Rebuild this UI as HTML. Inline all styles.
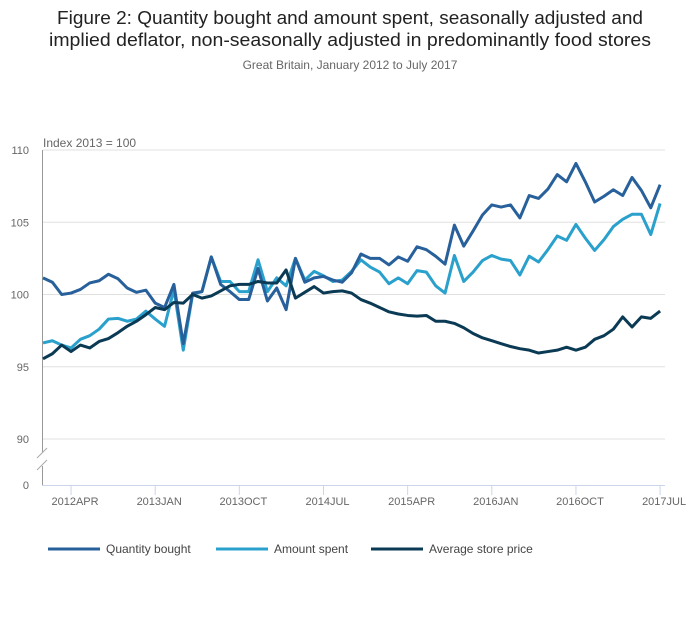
<!DOCTYPE html>
<html><head><meta charset="utf-8"><style>
body{margin:0;background:#fff;font-family:"Liberation Sans",sans-serif;}
svg text{font-family:"Liberation Sans",sans-serif;}
</style></head><body>
<svg id="chart" width="700" height="635" viewBox="0 0 700 635">
<text x="57" y="24" font-size="18.5" fill="#222" textLength="586" lengthAdjust="spacingAndGlyphs">Figure 2: Quantity bought and amount spent, seasonally adjusted and</text>
<text x="49" y="46" font-size="18.5" fill="#222" textLength="602" lengthAdjust="spacingAndGlyphs">implied deflator, non-seasonally adjusted in predominantly food stores</text>
<text x="350" y="69" text-anchor="middle" font-size="12" fill="#666">Great Britain, January 2012 to July 2017</text>
<text x="43" y="147" font-size="12" fill="#666">Index 2013 = 100</text>
<g id="grid"></g><g id="axes"></g><g id="series"></g>
<g>
<line x1="48" y1="549" x2="100" y2="549" stroke="#27609a" stroke-width="3"/><text x="106" y="553" font-size="12" fill="#444">Quantity bought</text>
<line x1="216" y1="549" x2="268" y2="549" stroke="#2aa0cc" stroke-width="3"/><text x="274" y="553" font-size="12" fill="#444">Amount spent</text>
<line x1="371" y1="549" x2="423" y2="549" stroke="#0b3a55" stroke-width="3"/><text x="429" y="553" font-size="12" fill="#444">Average store price</text>
</g>
</svg>
<script>
const quantity=[101.15,100.85,100.0,100.1,100.35,100.8,100.95,101.4,101.1,100.45,100.15,100.3,99.4,99.1,100.7,96.6,100.1,100.2,102.6,100.7,100.2,99.65,99.65,101.8,99.55,100.45,98.95,102.5,100.85,101.15,101.25,101.0,
100.85,101.5,102.8,102.5,102.5,102.05,102.6,102.3,103.3,103.1,102.65,102.1,104.8,103.35,104.4,105.5,106.2,106.05,106.2,105.3,106.85,106.65,107.3,108.3,107.8,109.07,107.8,106.4,106.8,107.25,106.85,108.1,107.2,106.0,107.6];
const amount=[96.65,96.8,96.5,96.3,96.9,97.15,97.6,98.3,98.35,98.15,98.3,98.85,98.3,97.8,100.35,96.15,100.0,100.2,102.6,100.9,100.9,100.2,100.2,102.4,100.2,101.15,100.6,102.5,101.0,101.6,101.3,100.9,
101.0,101.6,102.4,101.9,101.55,100.75,101.15,100.75,101.65,101.55,100.6,100.1,102.7,100.9,101.55,102.35,102.7,102.45,102.35,101.35,102.65,102.25,103.1,104.05,103.75,104.85,103.9,103.05,103.8,104.7,105.2,105.55,105.55,104.15,106.3];
const price=[95.55,95.9,96.5,96.05,96.5,96.3,96.75,96.95,97.35,97.8,98.15,98.6,99.1,98.95,99.45,99.4,100.0,99.75,99.9,100.25,100.6,100.7,100.7,100.9,100.8,100.8,101.7,99.75,100.15,100.55,100.1,100.2,
100.25,100.1,99.65,99.4,99.1,98.8,98.65,98.55,98.5,98.55,98.15,98.15,98.0,97.7,97.3,97.0,96.8,96.6,96.4,96.25,96.15,95.95,96.05,96.15,96.35,96.15,96.35,96.9,97.15,97.6,98.45,97.75,98.45,98.35,98.85];
const yTicks=[110,105,100,95,90];
const xTickIdx=[3,12,21,30,39,48,57,66];
const xTickLabels=["2012APR","2013JAN","2013OCT","2014JUL","2015APR","2016JAN","2016OCT","2017JUL"];
const NS="http://www.w3.org/2000/svg";
const X=i=>43+i*9.35, Y=v=>150+(110-v)*14.45;
function mk(t,a,p){const e=document.createElementNS(NS,t);for(const k in a)e.setAttribute(k,a[k]);p.appendChild(e);return e;}
const grid=document.getElementById('grid'),axes=document.getElementById('axes'),ser=document.getElementById('series');
yTicks.forEach(v=>{
 const l=mk('line',{x1:43,x2:665,y1:Y(v),y2:Y(v),stroke:'#e0e0e0','stroke-width':1},grid);
 
 
 const t=mk('text',{x:29,y:Y(v)+4,'text-anchor':'end','font-size':11,fill:'#666'},axes);t.textContent=v;
 
 
});
const z=mk('text',{x:29,y:489,'text-anchor':'end','font-size':11,fill:'#666'},axes);z.textContent='0';


mk('line',{x1:42.5,x2:42.5,y1:150,y2:452,stroke:'#999'},axes);
mk('line',{x1:42.5,x2:42.5,y1:466,y2:485,stroke:'#999'},axes);
mk('line',{x1:37,x2:47,y1:458,y2:448,stroke:'#aaa'},axes);
mk('line',{x1:37,x2:47,y1:470,y2:460,stroke:'#aaa'},axes);
mk('line',{x1:42,x2:665,y1:485.5,y2:485.5,stroke:'#ccd6eb'},axes);
xTickIdx.forEach((i,k)=>{
 mk('line',{x1:X(i),x2:X(i),y1:485,y2:495,stroke:'#ccd6eb'},axes);
 const t=mk('text',{x:X(i)+4,y:505,'text-anchor':'middle','font-size':11,fill:'#666'},axes);t.textContent=xTickLabels[k];
 
 
});
[[amount,'#2aa0cc','line-amount-spent'],[quantity,'#27609a','line-quantity-bought'],[price,'#0b3a55','line-average-store-price']].forEach(([d,c,n])=>{
 const p=mk('polyline',{points:d.map((v,i)=>X(i)+','+Y(v)).join(' '),fill:'none',stroke:c,'stroke-width':3,'stroke-linejoin':'round'},ser);
 
 
});
</script>
</body></html>
